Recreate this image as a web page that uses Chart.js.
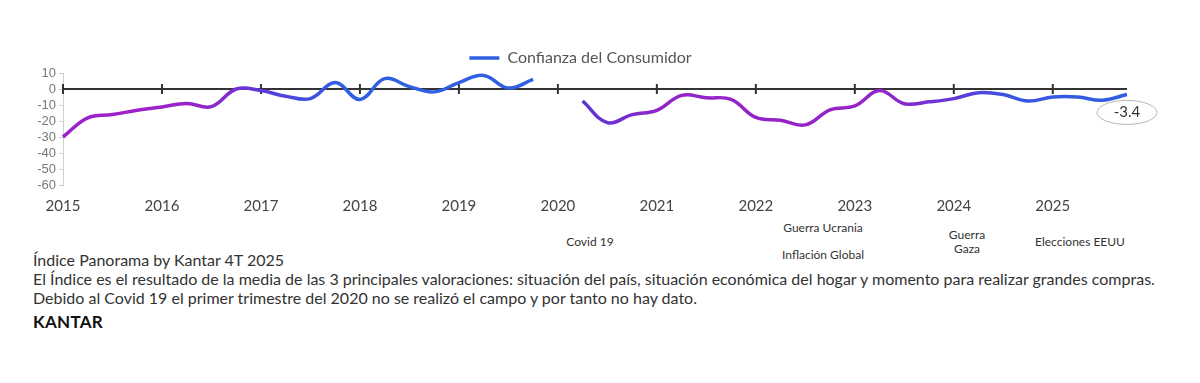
<!DOCTYPE html>
<html>
<head>
<meta charset="utf-8">
<script src="https://cdn.jsdelivr.net/npm/chart.js@4"></script>
<style>
  body { margin: 0; background: #fff; font-family: "Lato", sans-serif; }
  #wrap { position: absolute; left: 0; top: 0; width: 1200px; height: 219px; }
  .nota { position: absolute; font-size: 12px; color: #333; text-align: center; line-height: 14px; }
  #pie { position: absolute; left: 33px; top: 250px; color: #333; font-size: 16px; line-height: 19px; }
  #kantar { position: absolute; left: 33px; top: 311px; font-weight: bold; font-size: 17px; color: #111; letter-spacing: 0.3px; }
</style>
</head>
<body>
<div id="wrap"><canvas id="grafico"></canvas></div>

<div class="nota" style="left:560px; top:235px; width:60px;">Covid 19</div>
<div class="nota" style="left:773px; top:221px; width:100px;">Guerra Ucrania</div>
<div class="nota" style="left:773px; top:248px; width:100px;">Inflación Global</div>
<div class="nota" style="left:937px; top:228px; width:60px;">Guerra<br>Gaza</div>
<div class="nota" style="left:1025px; top:235px; width:110px;">Elecciones EEUU</div>

<div id="pie">
  Índice Panorama by Kantar 4T 2025<br>
  El Índice es el resultado de la media de las 3 principales valoraciones: situación del país, situación económica del hogar y momento para realizar grandes compras.<br>
  Debido al Covid 19 el primer trimestre del 2020 no se realizó el campo y por tanto no hay dato.
</div>
<div id="kantar">KANTAR</div>

<script>
// Datos trimestrales 2015T1 - 2025T4 (2020T1 sin dato)
const anios = ["2015", "2016", "2017", "2018", "2019", "2020", "2021", "2022", "2023", "2024", "2025"];
const trimestres = ["T1", "T2", "T3", "T4"];
const confianza = [
  -30, -18, -16, -13.3,
  -11.2, -9, -11, 0,
  -1, -4.5, -6, 4,
  -6.5, 6.5, 1.5, -1.8,
  4, 8.5, 0.6, 6,
  null, -7.5, -21, -16,
  -13.3, -4, -5.5, -6.5,
  -17.8, -19.5, -22.4, -13,
  -10.6, -1, -9.2, -8,
  -6, -2.3, -3.5, -7.5,
  -5, -5, -7, -3.4,
];
const etiquetas = [];
anios.forEach(a => trimestres.forEach(t => etiquetas.push(a + " " + t)));
const ticksY = [10, 0, -10, -20, -30, -40, -50, -60];

const morado = "#9b22c9";
const azul = "#2f5fe2";

function degradado(context) {
  const { chart } = context;
  const { ctx, chartArea } = chart;
  if (!chartArea) return morado;
  const g = ctx.createLinearGradient(chartArea.left, 0, chartArea.right, 0);
  g.addColorStop(0, morado);
  g.addColorStop(0.12, morado);
  g.addColorStop(0.19, "#5a3ad8");
  g.addColorStop(0.26, azul);
  g.addColorStop(0.44, azul);
  g.addColorStop(0.49, "#5a35d6");
  g.addColorStop(0.57, "#9524c8");
  g.addColorStop(0.77, "#9524c8");
  g.addColorStop(0.84, "#5f3ad8");
  g.addColorStop(0.89, "#3a55e0");
  g.addColorStop(1, azul);
  return g;
}

// leyenda un poco mas baja y mas a la derecha
const ajusteLeyenda = {
  id: "ajusteLeyenda",
  beforeInit(chart) {
    const fitOrig = chart.legend.fit;
    chart.legend.fit = function () {
      fitOrig.call(this);
      this.height -= 3;
    };
  },
  afterLayout(chart) {
    chart.legend.left += 34;
  },
};

// linea del cero con marcas de anio y etiqueta final
const ejeCero = {
  id: "ejeCero",
  beforeDatasetsDraw(chart) {
    const { ctx, scales } = chart;
    const y0 = scales.y.getPixelForValue(0);
    const xi = scales.x.getPixelForValue(0);
    const xf = scales.x.getPixelForValue(confianza.length - 1);
    ctx.save();
    ctx.strokeStyle = "#333";
    ctx.lineWidth = 2;
    ctx.beginPath();
    ctx.moveTo(xi, y0);
    ctx.lineTo(xf, y0);
    for (let i = 0; i < anios.length; i++) {
      const x = scales.x.getPixelForValue(i * 4);
      ctx.moveTo(x, y0 - 5);
      ctx.lineTo(x, y0 + 5);
    }
    ctx.stroke();
    ctx.restore();
  },
  afterDatasetsDraw(chart) {
    const { ctx, scales } = chart;
    const n = confianza.length - 1;
    const x = scales.x.getPixelForValue(n);
    const y = scales.y.getPixelForValue(confianza[n]) + 18;
    ctx.save();
    ctx.beginPath();
    ctx.ellipse(x, y, 30, 12, 0, 0, Math.PI * 2);
    ctx.fillStyle = "#fff";
    ctx.fill();
    ctx.strokeStyle = "#b8b8b0";
    ctx.lineWidth = 1;
    ctx.stroke();
    ctx.fillStyle = "#333";
    ctx.font = "15px Lato";
    ctx.textAlign = "center";
    ctx.textBaseline = "middle";
    ctx.fillText(confianza[n].toString(), x, y);
    ctx.restore();
  },
};

const ctx = document.getElementById("grafico").getContext("2d");
new Chart(ctx, {
  type: "line",
  data: {
    labels: etiquetas,
    datasets: [
      {
        label: "Confianza del Consumidor",
        data: confianza,
        borderColor: degradado,
        backgroundColor: degradado,
        borderWidth: 3.5,
        pointRadius: 0,
        tension: 0.4,
        spanGaps: false,
      },
    ],
  },
  options: {
    responsive: true,
    maintainAspectRatio: false,
    animation: false,
    layout: { padding: { left: 0, right: 73, top: 44, bottom: 0 } },
    plugins: {
      legend: {
        display: true,
        labels: {
          usePointStyle: true,
          pointStyle: "line",
          pointStyleWidth: 30,
          boxHeight: 3,
          padding: 6,
          color: "#555",
          font: { family: "Lato", size: 16 },
        },
      },
      tooltip: { enabled: false },
    },
    scales: {
      x: {
        type: "category",
        offset: false,
        grid: { display: false },
        border: { display: false },
        ticks: {
          autoSkip: false,
          maxRotation: 0,
          padding: 4,
          color: "#444",
          font: { family: "Lato", size: 15 },
          callback: (v, i) => (i % 4 === 0 ? anios[i / 4] : null),
        },
      },
      y: {
        min: -60,
        max: 10,
        afterFit: (s) => { s.width = 63; },
        afterBuildTicks: (s) => { s.ticks = ticksY.map(v => ({ value: v })); },
        grid: { drawOnChartArea: false, tickLength: 4, color: "#d0d0d0" },
        border: { color: "#d0d0d0" },
        ticks: {
          autoSkip: false,
          padding: 3,
          color: "#777",
          font: { family: "Liberation Sans", size: 13 },
        },
      },
    },
  },
  plugins: [ejeCero, ajusteLeyenda],
});
</script>
</body>
</html>
